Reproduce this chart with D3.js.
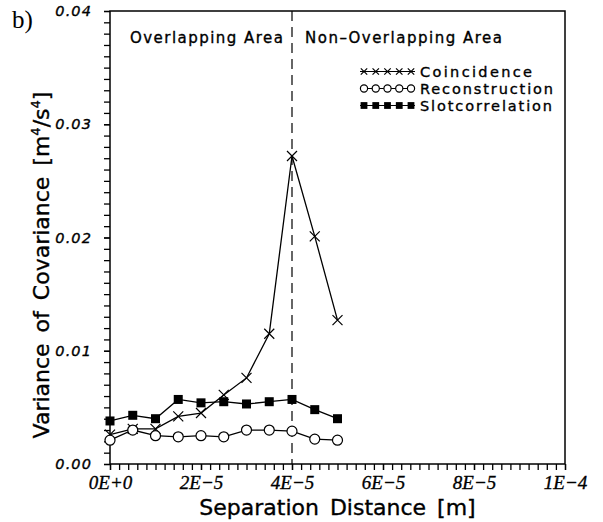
<!DOCTYPE html>
<html>
<head>
<meta charset="utf-8">
<script src="https://cdn.jsdelivr.net/npm/d3@7"></script>
<style>
  body { margin: 0; background: #fff; }
  svg { display: block; }
  .axis path, .axis line { stroke: #000; stroke-width: 1.3; }
  .heavy { stroke: #000; stroke-width: 0.35; }
</style>
</head>
<body>
<div id="chart"></div>
<script>
// separation distance [m]
const separation = [0, 5e-6, 1e-5, 1.5e-5, 2e-5, 2.5e-5, 3e-5, 3.5e-5, 4e-5, 4.5e-5, 5e-5];

const coincidence = [0.0026, 0.0031, 0.0031, 0.0042, 0.0045, 0.0061, 0.0076, 0.0115, 0.0272, 0.0201, 0.0127];
const reconstruction = [0.0021, 0.0030, 0.0025, 0.0024, 0.0025, 0.0024, 0.0030, 0.0030, 0.0029, 0.0022, 0.0021];
const slotcorrelation = [0.0038, 0.0043, 0.0040, 0.0057, 0.0054, 0.0055, 0.0053, 0.0055, 0.0057, 0.0048, 0.0040];

const seriesNames = ["Coincidence", "Reconstruction", "Slotcorrelation"];
const seriesMarkers = ["cross", "circle", "square"];

const xTickLabels = ["0E+0", "2E\u22125", "4E\u22125", "6E\u22125", "8E\u22125", "1E\u22124"];
const yTickLabels = ["0.00", "0.01", "0.02", "0.03", "0.04"];

const boundary = 4e-5;

const W = 603, H = 522;
const margin = { top: 11, right: 38, bottom: 58, left: 110 };
const width = W - margin.left - margin.right,
      height = H - margin.top - margin.bottom;

const svg = d3.select("#chart").append("svg")
  .attr("width", W).attr("height", H);

const g = svg.append("g")
  .attr("transform", `translate(${margin.left},${margin.top})`);

const x = d3.scaleLinear().domain([0, 1e-4]).range([0, width]);
const y = d3.scaleLinear().domain([0, 0.04]).range([height, 0]);

const xMajor = d3.range(6).map(i => i * 2e-5);
const xMinor = d3.range(51).map(i => i * 2e-6);
const yMajor = d3.range(5).map(i => i * 0.01);
const yMinor = d3.range(41).map(i => i * 0.001);

// minor ticks (no labels)
g.append("g").attr("class", "axis")
  .attr("transform", `translate(0,${height})`)
  .call(d3.axisBottom(x).tickValues(xMinor).tickSize(6).tickFormat(""))
  .select(".domain").remove();
g.append("g").attr("class", "axis")
  .call(d3.axisLeft(y).tickValues(yMinor).tickSize(6).tickFormat(""))
  .select(".domain").remove();

// major ticks with labels
const xAxis = g.append("g").attr("class", "axis")
  .attr("transform", `translate(0,${height})`)
  .call(d3.axisBottom(x).tickValues(xMajor).tickSize(6).tickPadding(6)
    .tickFormat((d, i) => xTickLabels[i]));
xAxis.select(".domain").remove();
xAxis.selectAll("text")
  .attr("class", "heavy")
  .attr("font-family", "Liberation Serif")
  .attr("font-style", "italic")
  .attr("font-size", 19)
  .attr("fill", "#000");

const yAxis = g.append("g").attr("class", "axis")
  .call(d3.axisLeft(y).tickValues(yMajor).tickSize(6).tickPadding(12)
    .tickFormat((d, i) => yTickLabels[i]));
yAxis.select(".domain").remove();
yAxis.selectAll("text")
  .attr("class", "heavy")
  .attr("font-family", "DejaVu Sans")
  .attr("font-style", "oblique")
  .attr("font-size", 14.5)
  .attr("letter-spacing", 1.1)
  .attr("fill", "#000");

// frame
g.append("rect")
  .attr("x", 0).attr("y", 0)
  .attr("width", width).attr("height", height)
  .attr("fill", "none").attr("stroke", "#000").attr("stroke-width", 1.5);

// boundary between overlapping / non-overlapping
g.append("line")
  .attr("x1", x(boundary)).attr("x2", x(boundary))
  .attr("y1", 0).attr("y2", height)
  .attr("stroke", "#000").attr("stroke-width", 1.2)
  .attr("stroke-dasharray", "10,6");

const font = "DejaVu Sans";
g.append("text")
  .attr("class", "heavy")
  .attr("x", x(0) + 20).attr("y", 32)
  .attr("font-family", font).attr("font-size", 15)
  .attr("textLength", 153).attr("lengthAdjust", "spacing")
  .text("Overlapping  Area");
g.append("text")
  .attr("class", "heavy")
  .attr("x", x(boundary) + 13).attr("y", 32)
  .attr("font-family", font).attr("font-size", 15)
  .attr("textLength", 197).attr("lengthAdjust", "spacing")
  .text("Non\u2013Overlapping  Area");

// markers
function drawMarker(sel, type, cx, cy, s) {
  if (type === "cross") {
    sel.append("path")
      .attr("d", `M${cx - s},${cy - s}L${cx + s},${cy + s}M${cx - s},${cy + s}L${cx + s},${cy - s}`)
      .attr("stroke", "#000").attr("stroke-width", 1.2).attr("fill", "none");
  } else if (type === "circle") {
    sel.append("circle")
      .attr("cx", cx).attr("cy", cy).attr("r", s)
      .attr("fill", "#fff").attr("stroke", "#000").attr("stroke-width", 1.2);
  } else {
    sel.append("rect")
      .attr("x", cx - s).attr("y", cy - s)
      .attr("width", 2 * s).attr("height", 2 * s)
      .attr("fill", "#000");
  }
}

const allSeries = [coincidence, reconstruction, slotcorrelation];
const line = d3.line().x(d => x(d[0])).y(d => y(d[1]));
const markerSize = { cross: 5, circle: 5, square: 4.5 };

allSeries.forEach((vals, k) => {
  const pts = separation.map((s, i) => [s, vals[i]]);
  g.append("path")
    .datum(pts)
    .attr("d", line)
    .attr("fill", "none")
    .attr("stroke", "#000")
    .attr("stroke-width", 1.3);
  const mg = g.append("g");
  pts.forEach(p => drawMarker(mg, seriesMarkers[k], x(p[0]), y(p[1]), markerSize[seriesMarkers[k]]));
});

// legend
const legendX0 = 250, legendX1 = 305, legendY = [60.5, 77.5, 94.5];
const legendSize = { cross: 3.2, circle: 3.6, square: 3.4 };
const legendLen = [112, 133, 132];
seriesNames.forEach((name, k) => {
  const lg = g.append("g");
  const ly = legendY[k];
  lg.append("line")
    .attr("x1", legendX0).attr("x2", legendX1)
    .attr("y1", ly).attr("y2", ly)
    .attr("stroke", "#000").attr("stroke-width", 1.2);
  d3.range(5).forEach(j => {
    const cx = legendX0 + 4 + j * (legendX1 - legendX0 - 8) / 4;
    drawMarker(lg, seriesMarkers[k], cx, ly, legendSize[seriesMarkers[k]]);
  });
  lg.append("text")
    .attr("class", "heavy")
    .attr("x", legendX1 + 5).attr("y", ly + 5.5)
    .attr("font-family", font).attr("font-size", 14.5)
    .attr("textLength", legendLen[k]).attr("lengthAdjust", "spacing")
    .text(name);
});

// axis titles
svg.append("text")
  .attr("class", "heavy")
  .attr("x", margin.left + width / 2).attr("y", 515)
  .attr("text-anchor", "middle")
  .attr("font-family", font).attr("font-size", 22)
  .attr("word-spacing", 4)
  .text("Separation Distance [m]");

const yTitle = svg.append("text")
  .attr("class", "heavy")
  .attr("transform", "translate(49,265) rotate(-90)")
  .attr("text-anchor", "middle")
  .attr("font-family", font).attr("font-size", 22)
  .attr("word-spacing", 4);
yTitle.append("tspan").text("Variance of Covariance [m");
yTitle.append("tspan").attr("dy", -9).attr("font-size", 13).text("4");
yTitle.append("tspan").attr("dy", 9).text("/s");
yTitle.append("tspan").attr("dy", -9).attr("font-size", 13).text("4");
yTitle.append("tspan").attr("dy", 9).text("]");

// panel tag
svg.append("text")
  .attr("x", 12).attr("y", 28)
  .attr("font-family", "Liberation Serif").attr("font-size", 25)
  .text("b)");
</script>
</body>
</html>
